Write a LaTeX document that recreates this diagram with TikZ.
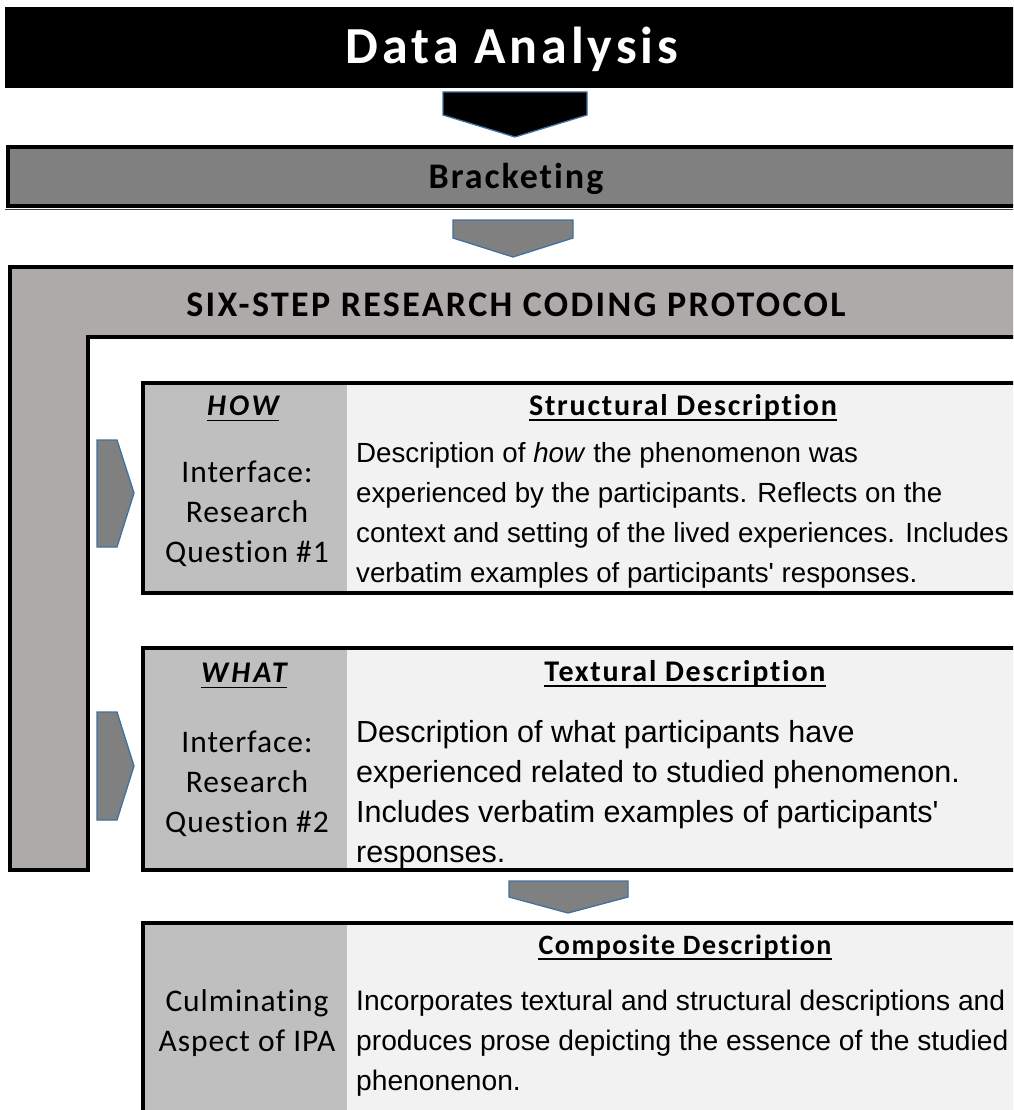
\documentclass[tikz,border=0pt]{standalone}
\usepackage{fontspec}
\setmainfont{Liberation Sans}
\newfontfamily\calT{Carlito}[LetterSpace=7.5, Ligatures=NoCommon]
\newfontfamily\calB{Carlito}[LetterSpace=5.5, Ligatures=NoCommon]
\newfontfamily\calP{Carlito}[LetterSpace=6.5, Ligatures=NoCommon]
\newfontfamily\calH{Carlito}[LetterSpace=6, Ligatures=NoCommon]
\newfontfamily\calW{Carlito}[LetterSpace=10, Ligatures=NoCommon]
\newfontfamily\calR{Carlito}[LetterSpace=3, Ligatures=NoCommon]
\definecolor{arrowblue}{HTML}{41719C}
\definecolor{midgray}{HTML}{808080}
\definecolor{framegray}{HTML}{AEAAAA}
\definecolor{colgray}{HTML}{BFBFBF}
\definecolor{bodygray}{HTML}{F2F2F2}
\tikzset{
  arrowshape/.style={fill=midgray, draw=arrowblue, line width=1.3pt, line join=miter},
  thickborder/.style={draw=black, line width=4pt},
  lbl/.style={inner sep=0pt, anchor=base},
  body/.style={inner sep=0pt, anchor=base west},
  ul/.style={line width=1.8pt},
}
\newcommand{\leftfont}{\fontsize{31.5}{31.5}\selectfont\calR}
\newcommand{\hdrfont}{\fontsize{30}{30}\selectfont\calH\bfseries}
\newcommand{\qs}{\textquotesingle}
\begin{document}
\begin{tikzpicture}[x=1pt,y=-1pt]
\useasboundingbox (0,0) rectangle (1013,1110);
\clip (0,0) rectangle (1013,1110);
\fill[white] (0,0) rectangle (1013,1110);

% title bar
\fill[black] (5,7) rectangle (1030,88);
\node[lbl, text=white] (title) at (512,64) {\fontsize{52}{52}\selectfont\calT\bfseries Data Analysis};
\draw[arrowshape, fill=black] (443,92) -- (587,92) -- (587,115) -- (515,137) -- (443,115) -- cycle;

% bracketing
\draw[thickborder, fill=midgray] (8,147) rectangle (1030,206);
\draw[black!75, line width=0.8pt] (5,209.8) -- (1030,209.8);
\node[lbl] (brk) at (516,189) {\fontsize{36}{36}\selectfont\calB\bfseries Bracketing};
\draw[arrowshape] (453,220) -- (573,220) -- (573,238) -- (513,257) -- (453,238) -- cycle;

% protocol frame
\draw[thickborder, fill=framegray] (10,267) -- (1030,267) -- (1030,337) -- (88,337) -- (88,870) -- (10,870) -- cycle;
\node[lbl] (six) at (516,316) {\fontsize{36}{36}\selectfont\calP\bfseries SIX-STEP RESEARCH CODING PROTOCOL};

% HOW box
\fill[colgray] (143,383) rectangle (347,593);
\fill[bodygray] (347,383) rectangle (1030,593);
\draw[thickborder] (143,383) rectangle (1030,593);
\node[lbl] (how) at (243,415) {\fontsize{30}{30}\selectfont\calW\bfseries\itshape HOW};
\draw[ul] ([yshift=-5.5pt]how.base west) -- ([yshift=-5.5pt]how.base east);
\node[lbl] (if1) at (247,482) {\leftfont Interface:};
\node[lbl] (rs1) at (247,522) {\leftfont Research};
\node[lbl] (qu1) at (247,562) {\leftfont Question \#1};
\node[lbl] (hdrS) at (683,415) {\hdrfont Structural Description};
\draw[ul] ([yshift=-5pt]hdrS.base west) -- ([yshift=-5pt]hdrS.base east);
\node[body] (s1) at (356,462) {\fontsize{27.7}{28}\selectfont Description of \textit{how} the phenomenon was};
\node[body] (s2) at (356,502) {\fontsize{27.7}{28}\selectfont experienced by the participants. Reflects on the};
\node[body] (s3) at (356,542) {\fontsize{27.7}{28}\selectfont context and setting of the lived experiences. Includes};
\node[body] (s4) at (356,582) {\fontsize{27.7}{28}\selectfont verbatim examples of participants\qs{} responses.};

% WHAT box
\fill[colgray] (143,648) rectangle (347,870);
\fill[bodygray] (347,648) rectangle (1030,870);
\draw[thickborder] (143,648) rectangle (1030,870);
\node[lbl] (what) at (244,682) {\fontsize{30}{30}\selectfont\calW\bfseries\itshape WHAT};
\draw[ul] ([yshift=-5.5pt]what.base west) -- ([yshift=-5.5pt]what.base east);
\node[lbl] (if2) at (247,752) {\leftfont Interface:};
\node[lbl] (rs2) at (247,792) {\leftfont Research};
\node[lbl] (qu2) at (247,832) {\leftfont Question \#2};
\node[lbl] (hdrT) at (685,681) {\hdrfont Textural Description};
\draw[ul] ([yshift=-5pt]hdrT.base west) -- ([yshift=-5pt]hdrT.base east);
\node[body] (t1) at (356,742) {\fontsize{30.5}{30.5}\selectfont Description of what participants have};
\node[body] (t2) at (356,782) {\fontsize{30.5}{30.5}\selectfont experienced related to studied phenomenon.};
\node[body] (t3) at (356,822) {\fontsize{30.5}{30.5}\selectfont Includes verbatim examples of participants\qs};
\node[body] (t4) at (356,862) {\fontsize{30.5}{30.5}\selectfont responses.};

% left arrows
\draw[arrowshape] (97,440) -- (117,440) -- (134,493) -- (117,547) -- (97,547) -- cycle;
\draw[arrowshape] (97,712) -- (117,712) -- (134,766) -- (117,820) -- (97,820) -- cycle;

% bottom arrow
\draw[arrowshape] (509,881) -- (628,881) -- (628,897) -- (568,913) -- (509,897) -- cycle;

% composite box
\fill[colgray] (143,923) rectangle (347,1130);
\fill[bodygray] (347,923) rectangle (1030,1130);
\draw[thickborder] (143,923) rectangle (1030,1130);
\node[lbl] (hdrC) at (685,954) {\fontsize{28}{28}\selectfont\calB\bfseries Composite Description};
\draw[ul] ([yshift=-5pt]hdrC.base west) -- ([yshift=-5pt]hdrC.base east);
\node[lbl] (cul) at (247,1011) {\leftfont Culminating};
\node[lbl] (asp) at (247,1051) {\leftfont Aspect of IPA};
\node[body] (c1) at (356,1010) {\fontsize{28.2}{28.5}\selectfont Incorporates textural and structural descriptions and};
\node[body] (c2) at (356,1050) {\fontsize{28.2}{28.5}\selectfont produces prose depicting the essence of the studied};
\node[body] (c3) at (356,1090) {\fontsize{28.2}{28.5}\selectfont phenonenon.};
\end{tikzpicture}
\end{document}
